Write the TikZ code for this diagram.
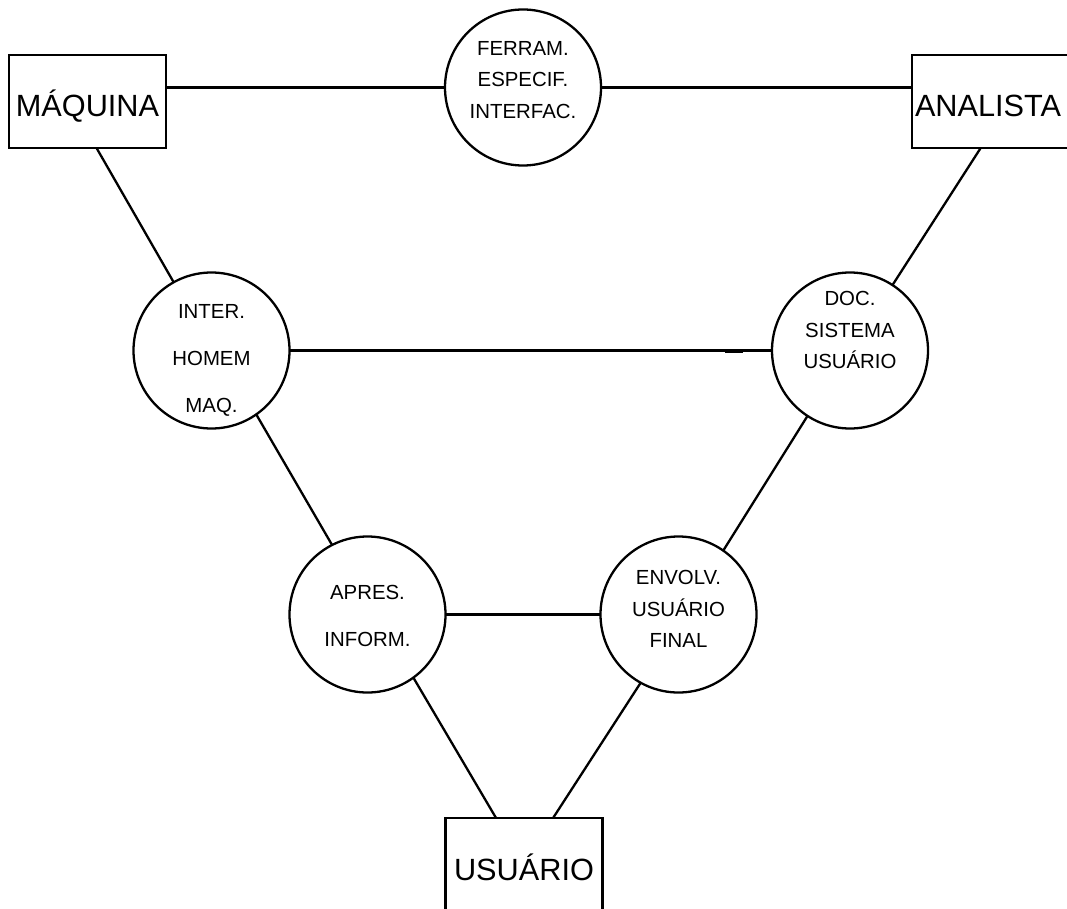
\documentclass[tikz,border=0pt]{standalone}
\usepackage{fontspec}
\setmainfont{Liberation Sans}
\begin{document}
\begin{tikzpicture}[x=1pt, y=-1pt, line width=2.3pt,
  boxnode/.style={rectangle, draw, minimum width=157pt, minimum height=93pt, inner sep=0pt, outer sep=0pt, text height=31pt, text depth=0pt, font=\fontsize{30.7}{36}\selectfont},
  roundnode/.style={circle, draw, minimum size=156pt, inner sep=0pt, outer sep=0pt},
  labelnode/.style={align=center, inner sep=0pt, font=\fontsize{20.4}{31.5}\selectfont},
  widelabel/.style={labelnode, font=\fontsize{20.4}{47}\selectfont}]
\path[use as bounding box, fill=white] (0,0) rectangle (1067,909);
% boxes
\node[boxnode] (maq) at (87.5,101.5) {MÁQUINA};
\node[boxnode, text width=158pt, align=left, inner xsep=3pt] (ana) at (994,101.5) {ANALISTA};
\node[boxnode] (usu) at (524,864.5) {USUÁRIO};
% circles
\node[roundnode] (ferr) at (523,87.5) {};
\node[roundnode] (ihm) at (211.5,350.5) {};
\node[roundnode] (doc) at (850,350.5) {};
\node[roundnode] (apr) at (367.5,614.5) {};
\node[roundnode] (env) at (678.5,614.5) {};
\node[labelnode] (ferr-t) at (523,80) {FERRAM.\\ESPECIF.\\INTERFAC.};
\node[widelabel] (ihm-t) at (211.5,360) {INTER.\\HOMEM\\MAQ.};
\node[labelnode] (doc-t) at (850,330) {DOC.\\SISTEMA\\USUÁRIO};
\node[widelabel] (apr-t) at (367.5,616) {APRES.\\INFORM.};
\node[labelnode] (env-t) at (678.5,609) {ENVOLV.\\USUÁRIO\\FINAL};
% connectors
\draw (maq.east |- ferr.west) -- (ferr.west);
\draw (ferr.east) -- (ana.west |- ferr.east);
\draw (ihm.east) -- (doc.west);
\draw (apr.east) -- (env.west);
\draw (maq.-79.6) -- (ihm.119.2);
\draw (ana.-106.8) -- (doc.57.9);
\draw (ihm.-55.6) -- (apr.117.5);
\draw (doc.-123.1) -- (env.55.4);
\draw (apr.-54.4) -- (usu.121.1);
\draw (env.-119.8) -- (usu.58.0);
\path (ihm.east) -- (doc.west) coordinate[pos=0.903] (tick-a) coordinate[pos=0.94] (tick-b);
\draw[line width=4pt] (tick-a) -- (tick-b);
\end{tikzpicture}
\end{document}
